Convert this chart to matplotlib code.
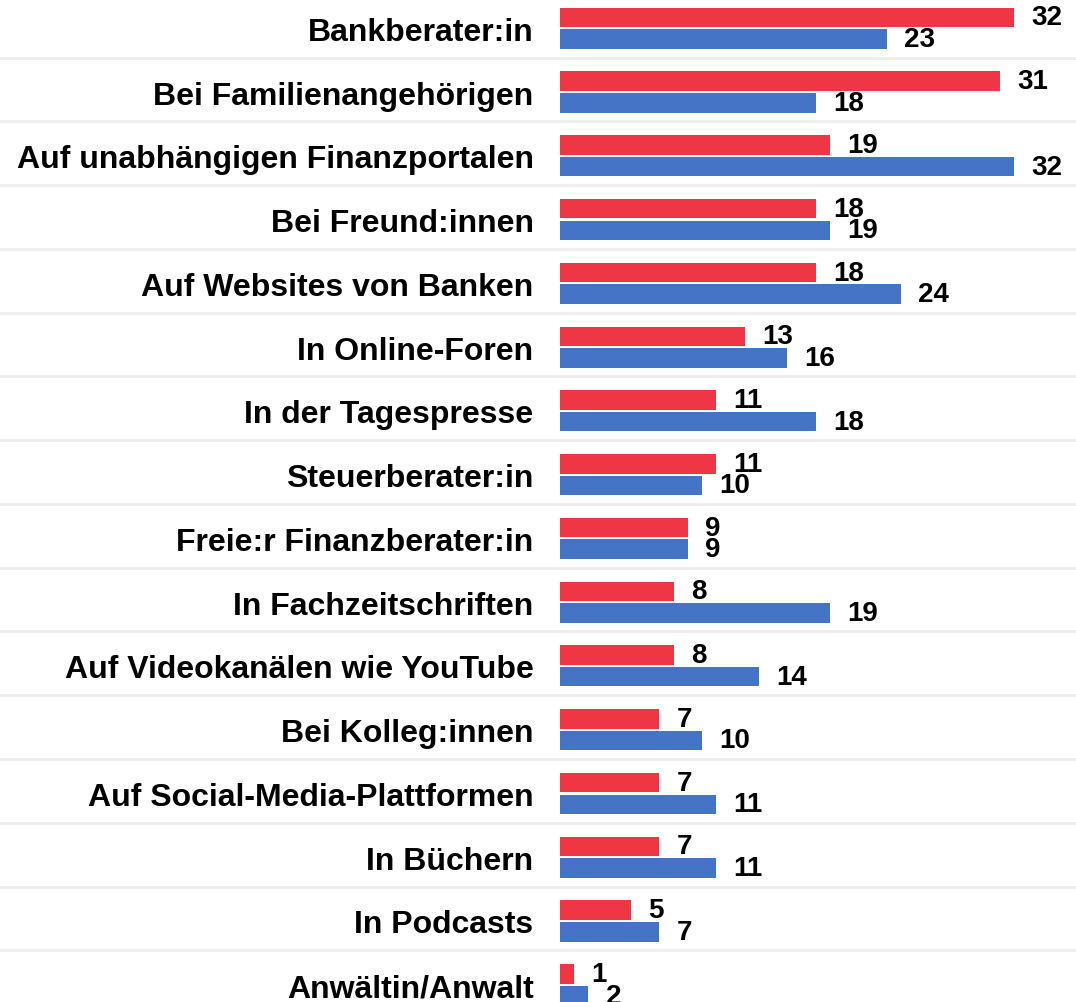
import numpy as np
import matplotlib.pyplot as plt
import matplotlib.transforms as mtransforms
from matplotlib.lines import Line2D

# Where people look for financial information (share in %)
categories = [
    "Bankberater:in",
    "Bei Familienangehörigen",
    "Auf unabhängigen Finanzportalen",
    "Bei Freund:innen",
    "Auf Websites von Banken",
    "In Online-Foren",
    "In der Tagespresse",
    "Steuerberater:in",
    "Freie:r Finanzberater:in",
    "In Fachzeitschriften",
    "Auf Videokanälen wie YouTube",
    "Bei Kolleg:innen",
    "Auf Social-Media-Plattformen",
    "In Büchern",
    "In Podcasts",
    "Anwältin/Anwalt",
]
red_values = [32, 31, 19, 18, 18, 13, 11, 11, 9, 8, 8, 7, 7, 7, 5, 1]
blue_values = [23, 18, 32, 19, 24, 16, 18, 10, 9, 19, 14, 10, 11, 11, 7, 2]

RED = "#EE3644"
BLUE = "#4574C6"
GRID = "#EEEEEE"

plt.rcParams['font.family'] = ['Liberation Sans', 'DejaVu Sans']
plt.rcParams['font.weight'] = 'bold'

W, H = 1076, 1003
fig = plt.figure(figsize=(W / 100, H / 100), dpi=100)

# axis starts at x=560px, ~14.2 px per percentage point, rows ~63.8 px apart
x0_px, px_per_unit = 560, 14.2
row_px, first_row_px = 63.76, 29.3
ax = fig.add_axes([x0_px / W, 0, (W - x0_px) / W, 1])
ax.set_xlim(0, (W - x0_px) / px_per_unit)
top = -first_row_px / row_px
ax.set_ylim(top + H / row_px, top)

y = np.arange(len(categories))
bar_h = 0.305
ax.barh(y - 0.17, red_values, height=bar_h, color=RED, edgecolor="none")
ax.barh(y + 0.17, blue_values, height=bar_h, color=BLUE, edgecolor="none")

# value labels to the right of each bar
for yi, r, b in zip(y, red_values, blue_values):
    ax.annotate(str(r), (r, yi - 0.17), xytext=(12.5, 0), textcoords="offset points",
                va="center", ha="left", fontsize=20, fontweight="bold", color="black")
    ax.annotate(str(b), (b, yi + 0.17), xytext=(12.5, 0), textcoords="offset points",
                va="center", ha="left", fontsize=20, fontweight="bold", color="black")

# light separators across the whole width between rows
trans = mtransforms.blended_transform_factory(fig.transFigure, ax.transData)
for yi in y[:-1]:
    fig.add_artist(Line2D([0, 1], [yi + 0.46, yi + 0.46], transform=trans,
                          color=GRID, linewidth=2.2, zorder=0))

ax.set_yticks(y)
ax.set_yticklabels(categories, fontsize=23, fontweight="bold")
ax.tick_params(axis="y", length=0, pad=19)
ax.set_xticks([])
for s in ax.spines.values():
    s.set_visible(False)
ax.patch.set_alpha(0)

fig.savefig("out.png", dpi=100)
